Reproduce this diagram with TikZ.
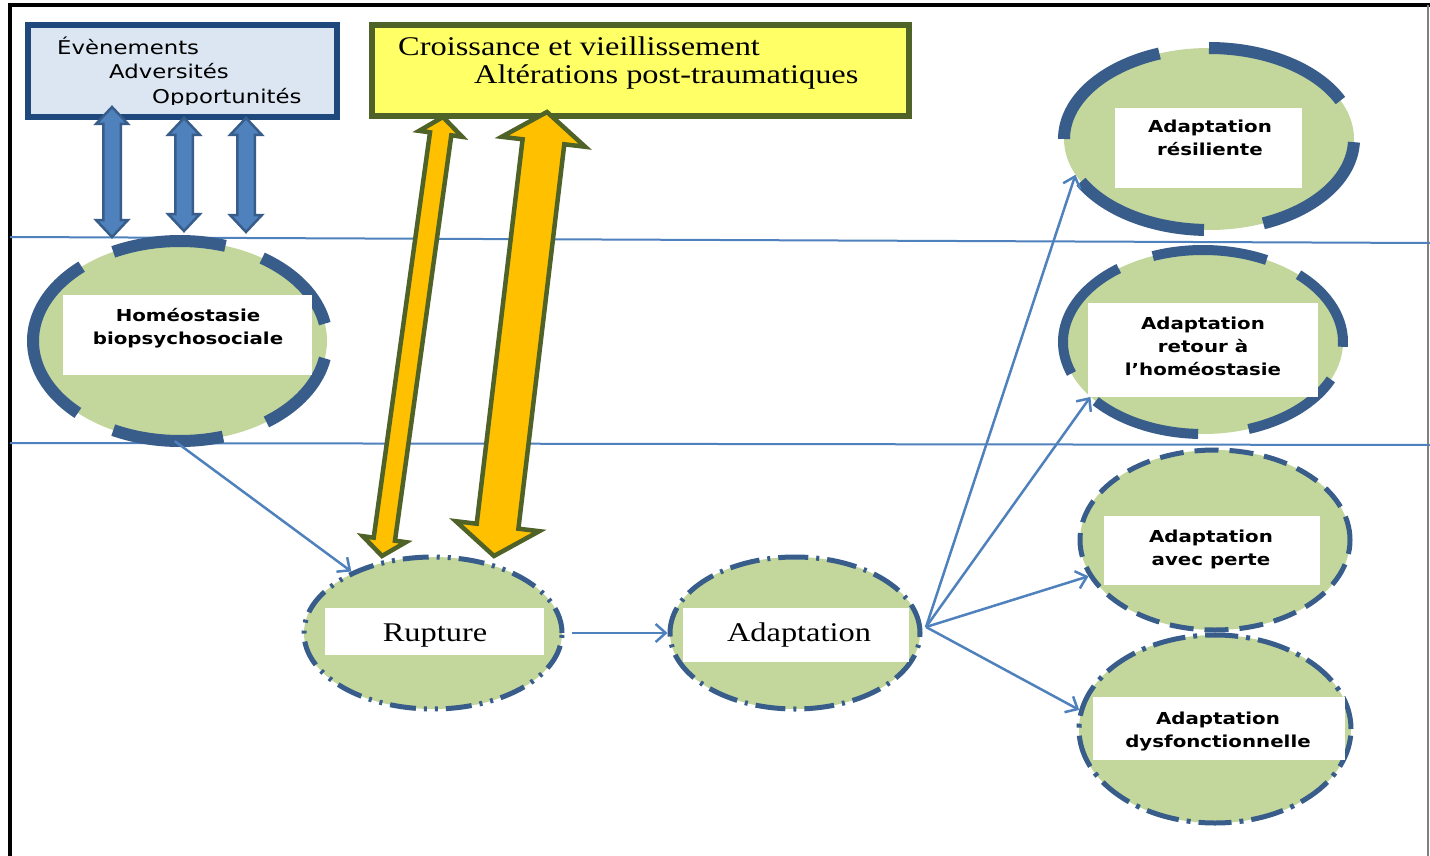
\documentclass[tikz,border=0pt]{standalone}
\usepackage{fontspec}
\usepackage{graphicx}
\setmainfont{Liberation Serif}
\newfontfamily\labelsans{DejaVu Sans}
\usetikzlibrary{shapes.geometric,calc,arrows.meta}

\definecolor{linkblue}{HTML}{4F81BD}
\definecolor{ringblue}{HTML}{385D8A}
\definecolor{navy}{HTML}{1F497D}
\definecolor{paleblue}{HTML}{DCE6F2}
\definecolor{sage}{HTML}{C3D69B}
\definecolor{lemon}{HTML}{FFFF66}
\definecolor{darkolive}{HTML}{4F6228}
\definecolor{amber}{HTML}{FFC000}

% text helpers (labels are set slightly wide)
\newcommand\boldlab[1]{\scalebox{1.2}[1]{\labelsans\bfseries\fontsize{16.5}{23}\selectfont\begin{tabular}{@{}c@{}}#1\end{tabular}}}
\newcommand\serlab[1]{\scalebox{1.2}[1]{\fontsize{27}{32}\selectfont #1}}
\newcommand\sanslab[1]{\scalebox{1.2}[1]{\labelsans\fontsize{19}{24}\selectfont #1}}

% thick arc of an outline: centre, x radius, y radius, from, to (angles measured upwards)
\newcommand\ringarc[6][]{%
  \draw[ring,#1] ($(#2)+({-(#5)}:#3 and #4)$)
    arc[start angle={-(#5)}, end angle={-(#6)}, x radius=#3, y radius=#4];}

% double-headed block arrow: style, tip A, tip B, half shaft, half head, head length
\newcommand\dblarrow[6]{%
  \draw[#1] (#2)
    -- ($(#2)!#6pt!(#3)!#5pt!90:(#3)$)
    -- ($(#2)!#6pt!(#3)!#4pt!90:(#3)$)
    -- ($(#3)!#6pt!(#2)!#4pt!-90:(#2)$)
    -- ($(#3)!#6pt!(#2)!#5pt!-90:(#2)$)
    -- (#3)
    -- ($(#3)!#6pt!(#2)!#5pt!90:(#2)$)
    -- ($(#3)!#6pt!(#2)!#4pt!90:(#2)$)
    -- ($(#2)!#6pt!(#3)!#4pt!-90:(#3)$)
    -- ($(#2)!#6pt!(#3)!#5pt!-90:(#3)$)
    -- cycle;}

\tikzset{
  ell/.style={ellipse, inner sep=0pt, fill=sage},
  card/.style={rectangle, fill=white, inner sep=0pt},
  ring/.style={ringblue, line width=12pt, line cap=butt},
  thinring/.style={draw=ringblue, line width=5pt},
  link/.style={linkblue, line width=2.5pt, -{Straight Barb[length=10pt,width=18pt]}},
  guide/.style={linkblue, line width=2pt},
  bluearrow/.style={fill=linkblue, draw=ringblue, line width=2.5pt, line join=miter},
  goldarrow/.style={fill=amber, draw=darkolive, line width=4.5pt, line join=miter},
  txt/.style={inner sep=0pt, text=black},
}

\begin{document}
\begin{tikzpicture}[x=1pt,y=-1pt]
\useasboundingbox (0,0) rectangle (1430,856);
\fill[white] (0,0) rectangle (1430,856);

% frame
\draw[black, line width=4pt] (10,856) -- (10,5) -- (1430,5);
\draw[gray, line width=1.5pt] (1428,5) -- (1428,856);

% horizontal guides
\draw[guide] (10,237) -- (1430,243);
\draw[guide] (10,443) -- (1430,445);

% top boxes
\node[draw=navy, fill=paleblue, line width=6pt, minimum width=309pt, minimum height=92pt, inner sep=0pt] (evbox) at (182.5,71) {};
\begin{scope}
  \clip (25,22) rectangle (340,104.5);
  \node[txt, anchor=base west] (ev1) at (57,55) {\sanslab{Évènements}};
  \node[txt, anchor=base west] (ev2) at (109,79) {\sanslab{Adversités}};
  \node[txt, anchor=base west] (ev3) at (152,104) {\sanslab{Opportunités}};
\end{scope}

\node[draw=darkolive, fill=lemon, line width=6pt, minimum width=537pt, minimum height=91pt, inner sep=0pt] (grbox) at (640.5,70.5) {};
\node[txt, anchor=base west] (gr1) at (398,56) {\serlab{Croissance et vieillissement}};
\node[txt, anchor=base west] (gr2) at (474,84) {\serlab{Altérations post-traumatiques}};

% states
\node[ell, minimum width=294pt, minimum height=200pt] (home) at (180,341) {};
\ringarc{home.center}{147}{100}{72}{117}
\ringarc{home.center}{147}{100}{10}{56}
\ringarc{home.center}{147}{100}{-54}{-10}
\ringarc{home.center}{147}{100}{-117}{-73}
\ringarc{home.center}{147}{100}{132}{226}
\node[card, minimum width=249pt, minimum height=80pt] (homeR) at (187.5,335) {};
\node[txt] (homeT) at (188,328.5) {\boldlab{Homéostasie\\biopsychosociale}};

\node[ell, thinring, dash pattern=on 26pt off 8pt on 3pt off 8pt on 3pt off 8pt, minimum width=258pt, minimum height=152pt] (rup) at (433,633) {};
\node[card, minimum width=219pt, minimum height=47pt] (rupR) at (434.5,631.5) {};
\node[txt, anchor=base] (rupT) at (435,641) {\serlab{Rupture}};

\node[ell, thinring, dash pattern=on 30pt off 8pt on 3pt off 8pt, minimum width=250pt, minimum height=152pt] (adap) at (795,633) {};
\node[card, minimum width=226pt, minimum height=54pt] (adapR) at (796,634.5) {};
\node[txt, anchor=base] (adapT) at (799,641) {\serlab{Adaptation}};

\node[ell, minimum width=290pt, minimum height=182pt] (res) at (1209,139) {};
\ringarc{res.center}{145}{91}{25}{90}
\ringarc{res.center}{145}{91}{-68}{-2}
\ringarc{res.center}{145}{91}{-152}{-92}
\ringarc{res.center}{145}{91}{110}{180}
\node[card, minimum width=187pt, minimum height=80pt] (resR) at (1208.5,148) {};
\node[txt] (resT) at (1210,139.5) {\boldlab{Adaptation\\résiliente}};

\node[ell, minimum width=280pt, minimum height=184pt] (ret) at (1203,342) {};
\ringarc[line width=10pt]{ret.center}{140}{92}{63}{111}
\ringarc[line width=10pt]{ret.center}{140}{92}{-3}{47}
\ringarc[line width=10pt]{ret.center}{140}{92}{-71}{-24}
\ringarc[line width=10pt]{ret.center}{140}{92}{-140}{-92}
\ringarc[line width=10pt]{ret.center}{140}{92}{127}{200}
\node[card, minimum width=230pt, minimum height=94pt] (retR) at (1203,350) {};
\node[txt] (retT) at (1203,348) {\boldlab{Adaptation\\retour à\\l’homéostasie}};

\node[ell, thinring, dash pattern=on 24pt off 11pt, minimum width=270pt, minimum height=180pt] (perte) at (1215,540) {};
\node[card, minimum width=216pt, minimum height=69pt] (perteR) at (1212,550.5) {};
\node[txt] (perteT) at (1211,549.5) {\boldlab{Adaptation\\avec perte}};

\node[ell, thinring, dash pattern=on 33pt off 8pt on 4pt off 8pt, minimum width=272pt, minimum height=188pt] (dys) at (1215,729) {};
\node[card, minimum width=252pt, minimum height=63pt] (dysR) at (1219,728.5) {};
\node[txt] (dysT) at (1218,731.5) {\boldlab{Adaptation\\dysfonctionnelle}};

% block arrows
\coordinate (b1a) at (112,107);  \coordinate (b1b) at (112,237);
\coordinate (b2a) at (184,118);  \coordinate (b2b) at (184,231);
\coordinate (b3a) at (246,118);  \coordinate (b3b) at (246,232);
\dblarrow{bluearrow}{b1a}{b1b}{8.75}{16}{17}
\dblarrow{bluearrow}{b2a}{b2b}{8.75}{16}{17}
\dblarrow{bluearrow}{b3a}{b3b}{8.75}{16}{17}

\coordinate (g1a) at (443,117);  \coordinate (g1b) at (382,556);
\coordinate (g2a) at (547,112);  \coordinate (g2b) at (494,556);
\dblarrow{goldarrow}{g1a}{g1b}{10.75}{21.75}{17}
\dblarrow{goldarrow}{g2a}{g2b}{21}{42}{30}

% transitions
\draw[link] (home.-93) -- (rup.143);
\draw[link, shorten <=7pt] (rup.east) -- (adap.west);
\coordinate (fan) at (926,627);
\draw[link] (fan) -- (res.195);
\draw[link] (fan) -- (ret.206);
\draw[link] (fan) -- (perte.196);
\draw[link] (fan) -- (dys.172);
\end{tikzpicture}
\end{document}
